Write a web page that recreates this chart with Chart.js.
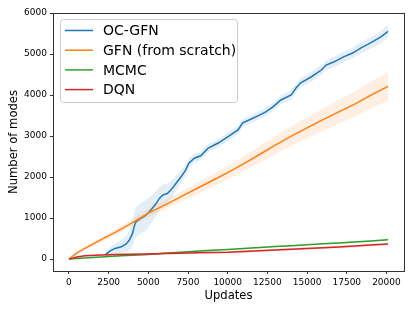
<!DOCTYPE html>
<html>
<head>
<meta charset="utf-8">
<script src="https://cdn.jsdelivr.net/npm/chart.js@4.4.0/dist/chart.umd.min.js"></script>
<style>
    body { margin: 0; background: #fff; }
    #wrap { width: 415px; height: 311px; }
</style>
</head>
<body>
<div id="wrap"><canvas id="modesChart" width="415" height="311"></canvas></div>
<script>
// OC-GFN (blue) - starts later than the others
const ocUpdates = [2300, 2600, 2900, 3300, 3600, 3800, 4000, 4100, 4200, 4500, 4850, 5050, 5250, 5500, 5700, 5900, 6200, 6500, 6750, 7050, 7350, 7550, 7900, 8300, 8750, 9400, 10000, 10650, 10950, 11450, 12000, 12400, 12850, 13350, 14000, 14300, 14600, 15250, 15900, 16200, 16700, 17300, 17900, 18400, 19000, 19650, 20100];
const ocModes = [110, 200, 260, 300, 370, 460, 620, 780, 900, 990, 1070, 1150, 1240, 1360, 1480, 1560, 1600, 1720, 1850, 2000, 2170, 2340, 2460, 2520, 2700, 2830, 2980, 3150, 3320, 3410, 3510, 3590, 3710, 3880, 4000, 4170, 4300, 4440, 4610, 4730, 4810, 4930, 5030, 5150, 5270, 5420, 5550];
const ocSpread = [60, 90, 120, 160, 200, 250, 300, 340, 370, 380, 370, 350, 330, 300, 280, 260, 240, 210, 190, 160, 140, 120, 110, 100, 100, 100, 100, 100, 100, 100, 100, 100, 100, 110, 110, 110, 110, 120, 120, 120, 130, 130, 130, 140, 140, 150, 160];

// shared x for the other three runs
const updates = [0, 500, 1000, 2000, 3000, 4000, 5000, 6000, 7000, 8000, 9000, 10000, 11000, 12000, 13000, 14000, 15000, 16000, 17000, 18000, 19000, 20100];
const gfnModes = [0, 150, 260, 470, 670, 890, 1120, 1310, 1510, 1710, 1910, 2110, 2320, 2550, 2780, 3000, 3200, 3400, 3590, 3780, 3990, 4210];
const gfnSpread = [0, 30, 40, 60, 75, 90, 100, 115, 125, 140, 150, 160, 180, 200, 220, 240, 250, 270, 290, 310, 330, 350];
const mcmcModes = [0, 15, 28, 50, 75, 95, 115, 140, 165, 190, 215, 236, 258, 282, 305, 328, 350, 372, 395, 418, 440, 470];
const mcmcSpread = [0, 8, 10, 12, 12, 12, 14, 14, 14, 15, 15, 15, 15, 15, 15, 15, 15, 15, 15, 15, 15, 15];
const dqnModes = [0, 50, 80, 100, 110, 118, 125, 135, 145, 155, 160, 168, 185, 205, 225, 240, 260, 278, 295, 320, 345, 370];
const dqnSpread = [0, 15, 20, 25, 25, 25, 25, 25, 25, 25, 25, 28, 28, 30, 30, 30, 30, 30, 30, 30, 30, 30];

const xTicks = [0, 2500, 5000, 7500, 10000, 12500, 15000, 17500, 20000];
const yTicks = [0, 1000, 2000, 3000, 4000, 5000, 6000];

const seriesNames = ['OC-GFN', 'GFN (from scratch)', 'MCMC', 'DQN'];
const seriesColors = ['#1f77b4', '#ff7f0e', '#2ca02c', '#d62728'];

const FONT = '"DejaVu Sans", sans-serif';

function toPoints(xs, ys) {
    return xs.map((x, i) => ({ x: x, y: ys[i] }));
}

function hexToRgba(hex, a) {
    const n = parseInt(hex.slice(1), 16);
    return `rgba(${(n >> 16) & 255}, ${(n >> 8) & 255}, ${n & 255}, ${a})`;
}

const datasets = [];
const runs = [
    { xs: ocUpdates, ys: ocModes, sd: ocSpread },
    { xs: updates, ys: gfnModes, sd: gfnSpread },
    { xs: updates, ys: mcmcModes, sd: mcmcSpread },
    { xs: updates, ys: dqnModes, sd: dqnSpread }
];

runs.forEach((run, i) => {
    const color = seriesColors[i];
    const base = 10 - i * 3;
    const lowerIndex = datasets.length;
    datasets.push({
        label: seriesNames[i] + ' low',
        data: toPoints(run.xs, run.ys.map((v, k) => v - run.sd[k])),
        borderWidth: 0,
        pointRadius: 0,
        fill: false,
        order: base
    });
    datasets.push({
        label: seriesNames[i] + ' high',
        data: toPoints(run.xs, run.ys.map((v, k) => v + run.sd[k])),
        borderWidth: 0,
        pointRadius: 0,
        backgroundColor: hexToRgba(color, i < 2 ? 0.12 : 0.15),
        fill: { target: lowerIndex },
        order: base - 1
    });
    datasets.push({
        label: seriesNames[i],
        data: toPoints(run.xs, run.ys),
        borderColor: color,
        borderWidth: 1.5,
        pointRadius: 0,
        fill: false,
        tension: 0,
        order: base - 2
    });
});

// matplotlib-like frame and legend box
const framePlugin = {
    id: 'frameAndLegend',
    afterDraw(chart) {
        const ctx = chart.ctx;
        const a = chart.chartArea;
        ctx.save();
        ctx.strokeStyle = '#333';
        ctx.lineWidth = 1;
        ctx.strokeRect(Math.round(a.left) + 0.5, Math.round(a.top) + 0.5, Math.round(a.right - a.left), Math.round(a.bottom - a.top));

        // legend
        const bx = 60.5, by = 19.5, bw = 177, bh = 83;
        ctx.fillStyle = 'rgba(255,255,255,0.8)';
        ctx.strokeStyle = '#cccccc';
        ctx.beginPath();
        ctx.roundRect(bx, by, bw, bh, 3);
        ctx.fill();
        ctx.stroke();

        ctx.font = '14px ' + FONT;
        ctx.textBaseline = 'middle';
        seriesNames.forEach((name, i) => {
            const y = 30.5 + i * 19.7;
            ctx.strokeStyle = seriesColors[i];
            ctx.lineWidth = 1.5;
            ctx.beginPath();
            ctx.moveTo(65, y);
            ctx.lineTo(93, y);
            ctx.stroke();
            ctx.fillStyle = '#000';
            ctx.fillText(name, 103, y + 1);
        });
        ctx.restore();
    }
};

const ctx = document.getElementById('modesChart').getContext('2d');

new Chart(ctx, {
    type: 'line',
    data: { datasets: datasets },
    plugins: [framePlugin],
    options: {
        responsive: false,
        animation: false,
        layout: { padding: { top: 13, right: 11, left: 0, bottom: 0 } },
        plugins: {
            legend: { display: false },
            tooltip: { enabled: false }
        },
        scales: {
            x: {
                type: 'linear',
                min: -1005,
                max: 21105,
                afterBuildTicks: scale => { scale.ticks = xTicks.map(v => ({ value: v })); },
                afterFit: scale => { scale.height = 40; },
                border: { display: false },
                grid: { drawOnChartArea: false, drawTicks: true, tickLength: 3, color: '#333' },
                ticks: {
                    color: '#000',
                    font: { family: FONT, size: 9 },
                    padding: 3,
                    maxRotation: 0,
                    callback: v => String(v)
                },
                title: {
                    display: true,
                    text: 'Updates',
                    color: '#000',
                    font: { family: FONT, size: 11.6 },
                    padding: { top: 0, bottom: 8 }
                }
            },
            y: {
                min: -290,
                max: 6000,
                afterBuildTicks: scale => { scale.ticks = yTicks.map(v => ({ value: v })); },
                afterFit: scale => { scale.width = 53; },
                border: { display: false },
                grid: { drawOnChartArea: false, drawTicks: true, tickLength: 3, color: '#333' },
                ticks: {
                    color: '#000',
                    font: { family: FONT, size: 9 },
                    padding: 3,
                    callback: v => String(v)
                },
                title: {
                    display: true,
                    text: 'Number of modes',
                    color: '#000',
                    font: { family: FONT, size: 11.6 },
                    padding: { top: 7, bottom: 0 }
                }
            }
        }
    }
});
</script>
</body>
</html>
